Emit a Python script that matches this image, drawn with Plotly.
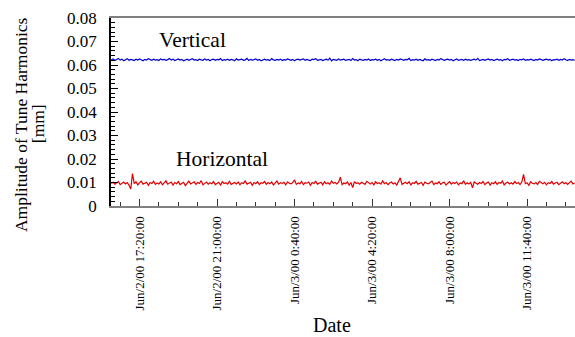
import pandas as pd
import plotly.graph_objects as go

start_time = "2000-06-02 16:00:00"
interval_min = 5

horizontal = [
    0.0096, 0.0101, 0.0093, 0.0099, 0.0104, 0.0091, 0.0098, 0.0102, 0.0094, 0.0100, 0.0089, 0.0072,
    0.0138, 0.0095, 0.0103, 0.0090, 0.0099, 0.0106, 0.0093, 0.0097, 0.0101, 0.0088, 0.0100, 0.0096,
    0.0105, 0.0092, 0.0098, 0.0094, 0.0103, 0.0090, 0.0099, 0.0107, 0.0093, 0.0097, 0.0102, 0.0089,
    0.0100, 0.0095, 0.0104, 0.0091, 0.0098, 0.0101, 0.0087, 0.0099, 0.0106, 0.0094, 0.0097, 0.0103,
    0.0092, 0.0100, 0.0096, 0.0108, 0.0090, 0.0098, 0.0102, 0.0093, 0.0099, 0.0095, 0.0104, 0.0091,
    0.0097, 0.0101, 0.0089, 0.0103, 0.0096, 0.0099, 0.0093, 0.0105, 0.0092, 0.0098, 0.0100, 0.0094,
    0.0102, 0.0090, 0.0099, 0.0096, 0.0107, 0.0093, 0.0098, 0.0101, 0.0088, 0.0100, 0.0095, 0.0103,
    0.0091, 0.0099, 0.0097, 0.0104, 0.0092, 0.0100, 0.0095, 0.0102, 0.0089, 0.0098, 0.0106, 0.0093,
    0.0099, 0.0096, 0.0101, 0.0090, 0.0103, 0.0097, 0.0094, 0.0100, 0.0111, 0.0092, 0.0098, 0.0095,
    0.0104, 0.0091, 0.0099, 0.0097, 0.0102, 0.0088, 0.0100, 0.0096, 0.0105, 0.0093, 0.0098, 0.0101,
    0.0090, 0.0103, 0.0095, 0.0099, 0.0092, 0.0106, 0.0097, 0.0100, 0.0094, 0.0101, 0.0123, 0.0091,
    0.0098, 0.0095, 0.0102, 0.0089, 0.0100, 0.0078, 0.0104, 0.0096, 0.0099, 0.0093, 0.0101, 0.0097,
    0.0092, 0.0105, 0.0098, 0.0094, 0.0100, 0.0090, 0.0103, 0.0096, 0.0099, 0.0093, 0.0107, 0.0095,
    0.0100, 0.0091, 0.0098, 0.0102, 0.0094, 0.0099, 0.0089, 0.0104, 0.0120, 0.0092, 0.0097, 0.0101,
    0.0095, 0.0103, 0.0090, 0.0099, 0.0096, 0.0105, 0.0093, 0.0098, 0.0100, 0.0088, 0.0102, 0.0097,
    0.0094, 0.0100, 0.0106, 0.0091, 0.0098, 0.0095, 0.0103, 0.0092, 0.0099, 0.0101, 0.0089, 0.0097,
    0.0104, 0.0093, 0.0100, 0.0096, 0.0102, 0.0090, 0.0098, 0.0095, 0.0107, 0.0092, 0.0099, 0.0094,
    0.0101, 0.0077, 0.0103, 0.0097, 0.0093, 0.0100, 0.0096, 0.0104, 0.0091, 0.0098, 0.0102, 0.0089,
    0.0099, 0.0095, 0.0103, 0.0092, 0.0100, 0.0097, 0.0106, 0.0090, 0.0098, 0.0101, 0.0094, 0.0099,
    0.0093, 0.0104, 0.0096, 0.0100, 0.0091, 0.0102, 0.0135, 0.0095, 0.0099, 0.0088, 0.0103, 0.0097,
    0.0094, 0.0100, 0.0092, 0.0105, 0.0098, 0.0095, 0.0101, 0.0090, 0.0099, 0.0096, 0.0104, 0.0093,
    0.0098, 0.0101, 0.0091, 0.0097, 0.0103, 0.0095, 0.0100, 0.0092, 0.0099, 0.0106, 0.0094, 0.0098,
]

vertical = [
    0.0622, 0.0626, 0.0619, 0.0624, 0.0628, 0.0621, 0.0625, 0.0618, 0.0623, 0.0627, 0.0620, 0.0624,
    0.0622, 0.0619, 0.0625, 0.0621, 0.0626, 0.0623, 0.0618, 0.0624, 0.0621, 0.0627, 0.0622, 0.0620,
    0.0625, 0.0621, 0.0623, 0.0619, 0.0626, 0.0622, 0.0624, 0.0620, 0.0623, 0.0628, 0.0621, 0.0625,
    0.0619, 0.0623, 0.0626, 0.0621, 0.0624, 0.0618, 0.0622, 0.0625, 0.0620, 0.0624, 0.0627, 0.0621,
    0.0623, 0.0619, 0.0625, 0.0622, 0.0620, 0.0626, 0.0621, 0.0624, 0.0618, 0.0623, 0.0625, 0.0620,
    0.0624, 0.0622, 0.0627, 0.0619, 0.0623, 0.0621, 0.0625, 0.0620, 0.0624, 0.0622, 0.0618, 0.0626,
    0.0621, 0.0623, 0.0625, 0.0620, 0.0622, 0.0628, 0.0619, 0.0624, 0.0621, 0.0623, 0.0626, 0.0620,
    0.0624, 0.0618, 0.0622, 0.0625, 0.0621, 0.0623, 0.0619, 0.0627, 0.0622, 0.0620, 0.0624, 0.0621,
    0.0625, 0.0619, 0.0623, 0.0621, 0.0626, 0.0622, 0.0620, 0.0624, 0.0618, 0.0623, 0.0625, 0.0621,
    0.0622, 0.0626, 0.0620, 0.0624, 0.0621, 0.0619, 0.0625, 0.0623, 0.0627, 0.0620, 0.0622, 0.0624,
    0.0619, 0.0623, 0.0625, 0.0621, 0.0629, 0.0618, 0.0624, 0.0622, 0.0620, 0.0626, 0.0621, 0.0623,
    0.0625, 0.0620, 0.0622, 0.0624, 0.0619, 0.0627, 0.0621, 0.0623, 0.0618, 0.0625, 0.0622, 0.0620,
    0.0624, 0.0621, 0.0626, 0.0619, 0.0623, 0.0622, 0.0625, 0.0620, 0.0624, 0.0618, 0.0622, 0.0627,
    0.0621, 0.0623, 0.0620, 0.0625, 0.0622, 0.0619, 0.0624, 0.0621, 0.0626, 0.0623, 0.0620, 0.0624,
    0.0622, 0.0628, 0.0619, 0.0623, 0.0621, 0.0625, 0.0620, 0.0624, 0.0622, 0.0618, 0.0626, 0.0621,
    0.0623, 0.0620, 0.0625, 0.0622, 0.0619, 0.0624, 0.0621, 0.0627, 0.0622, 0.0620, 0.0623, 0.0625,
    0.0621, 0.0624, 0.0618, 0.0623, 0.0626, 0.0620, 0.0622, 0.0624, 0.0619, 0.0625, 0.0621, 0.0623,
    0.0620, 0.0622, 0.0625, 0.0621, 0.0628, 0.0619, 0.0623, 0.0624, 0.0620, 0.0622, 0.0626, 0.0621,
    0.0624, 0.0619, 0.0622, 0.0625, 0.0621, 0.0623, 0.0618, 0.0624, 0.0622, 0.0627, 0.0620, 0.0623,
    0.0625, 0.0621, 0.0623, 0.0619, 0.0624, 0.0622, 0.0626, 0.0620, 0.0623, 0.0621, 0.0625, 0.0622,
    0.0619, 0.0624, 0.0621, 0.0626, 0.0622, 0.0620, 0.0623, 0.0625, 0.0621, 0.0624, 0.0618, 0.0623,
    0.0622, 0.0625, 0.0620, 0.0624, 0.0621, 0.0627, 0.0622, 0.0619, 0.0624, 0.0621, 0.0623, 0.0620,
]

times = pd.date_range(start=start_time, periods=len(horizontal), freq=f"{interval_min}min")

x_range = ["2000-06-02 15:59:00", "2000-06-03 13:56:00"]
major_tick0 = "2000-06-02 17:20:00"
major_dtick_ms = 220 * 60 * 1000
minor_dtick_ms = 55 * 60 * 1000

y_title_lines = ["Amplitude of Tune Harmonics", "[mm]"]
x_title = "Date"

FONT = "Liberation Serif, Times New Roman, serif"

fig = go.Figure()
fig.add_trace(go.Scatter(x=times, y=vertical, mode="lines",
                         line=dict(color="#0000d0", width=1.2), name="Vertical"))
fig.add_trace(go.Scatter(x=times, y=horizontal, mode="lines",
                         line=dict(color="#e00000", width=1.2), name="Horizontal"))

fig.update_layout(
    width=575, height=337,
    margin=dict(l=111, r=0, t=18, b=131),
    paper_bgcolor="white", plot_bgcolor="white",
    showlegend=False,
    font=dict(family=FONT, color="black"),
    xaxis=dict(
        type="date", range=x_range,
        tickmode="linear", tick0=major_tick0, dtick=major_dtick_ms,
        tickformat="%b/%-d/%y %-H:%M:%S", tickangle=-90,
        tickfont=dict(family=FONT, size=13, color="black"),
        ticklabelstandoff=3,
        ticks="inside", ticklen=7, tickcolor="#333333", tickwidth=1,
        minor=dict(tick0=major_tick0, dtick=minor_dtick_ms, ticks="inside",
                   ticklen=4, tickcolor="#333333", showgrid=False),
        showline=True, linecolor="#808080", linewidth=2, mirror=True,
        showgrid=False, zeroline=False,
    ),
    yaxis=dict(
        range=[0, 0.08], tickmode="linear", tick0=0, dtick=0.01,
        tickformat="~g",
        tickfont=dict(family=FONT, size=17, color="black"),
        ticklabelstandoff=9,
        ticks="inside", ticklen=7, tickcolor="black", tickwidth=1,
        minor=dict(dtick=0.002, ticks="inside", ticklen=4, tickcolor="black", showgrid=False),
        showline=True, linecolor="black", linewidth=1.5,
        showgrid=False, zeroline=False,
    ),
    annotations=[
        dict(text="Vertical", x=0.1746, y=0.883, xref="paper", yref="paper",
             xanchor="center", yanchor="middle",
             showarrow=False, font=dict(family=FONT, size=21.5)),
        dict(text="Horizontal", x=0.2403, y=0.25, xref="paper", yref="paper",
             xanchor="center", yanchor="middle",
             showarrow=False, font=dict(family=FONT, size=21.5)),
        dict(text=y_title_lines[0], x=-0.194, y=0.436,
             xref="paper", yref="paper", textangle=-90, showarrow=False,
             xanchor="center", yanchor="middle",
             font=dict(family=FONT, size=17.5)),
        dict(text=y_title_lines[1], x=-0.157, y=0.436,
             xref="paper", yref="paper", textangle=-90, showarrow=False,
             xanchor="center", yanchor="middle",
             font=dict(family=FONT, size=17.5)),
        dict(text=x_title, x=0.476, y=-0.632,
             xref="paper", yref="paper", showarrow=False,
             xanchor="center", yanchor="middle",
             font=dict(family=FONT, size=20)),
    ],
)

fig.write_html("out.html", config={"displayModeBar": False},
               post_script="document.body.style.margin='0';")
